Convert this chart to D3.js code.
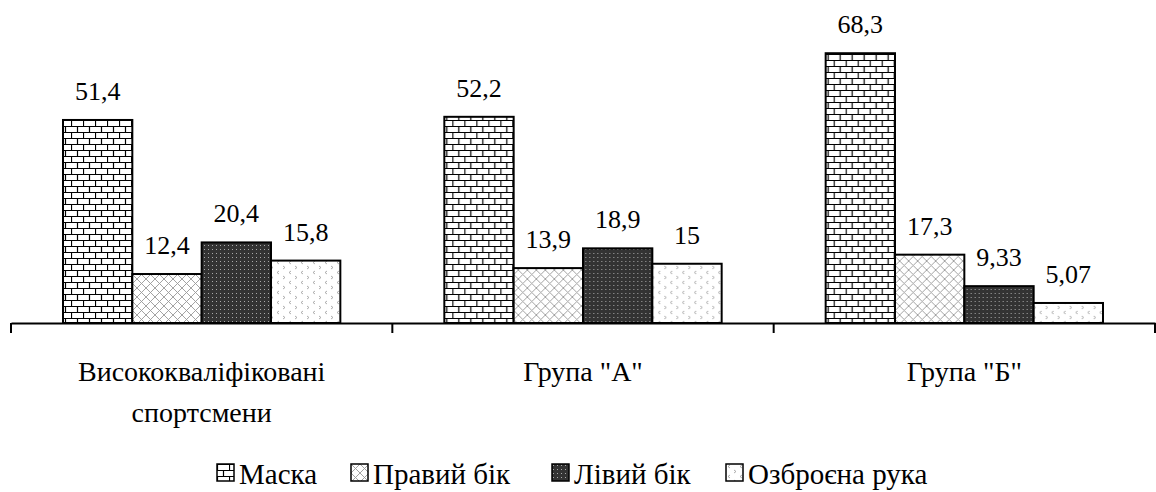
<!DOCTYPE html>
<html>
<head>
<meta charset="utf-8">
<script src="https://cdn.jsdelivr.net/npm/d3@7"></script>
<style>
  body { margin: 0; background: #fff; }
  svg text { fill: #000; }
</style>
</head>
<body>
<div id="chart"></div>
<script>
// Data
const categories = ["Висококваліфіковані\nспортсмени", 'Група "А"', 'Група "Б"'];
const series = ["Маска", "Правий бік", "Лівий бік", "Озброєна рука"];
const valueLabels = [
  ["51,4", "12,4", "20,4", "15,8"],
  ["52,2", "13,9", "18,9", "15"],
  ["68,3", "17,3", "9,33", "5,07"]
];
const values = [
  [51.4, 12.4, 20.4, 15.8],
  [52.2, 13.9, 18.9, 15],
  [68.3, 17.3, 9.33, 5.07]
];

// Dimensions
const width = 1156;
const height = 492;
const margin = {left: 11, right: 1, top: 7, bottom: 169};
const baseY = height - margin.bottom;

const svg = d3.select("#chart")
  .append("svg")
  .attr("width", width)
  .attr("height", height)
  .attr("font-family", "'Liberation Serif', 'Times New Roman', serif");

// Fill patterns (Excel-like hatches)
const defs = svg.append("defs");

const brick = defs.append("pattern").attr("id", "p0")
  .attr("patternUnits", "userSpaceOnUse").attr("width", 12).attr("height", 12);
brick.append("rect").attr("width", 12).attr("height", 12).attr("fill", "#fff");
brick.append("path")
  .attr("d", "M0,0.5H12M0,6.5H12M0.5,0V6.5M6.5,6.5V12")
  .attr("stroke", "#000").attr("stroke-width", 1.2).attr("fill", "none");

const cross = defs.append("pattern").attr("id", "p1")
  .attr("patternUnits", "userSpaceOnUse").attr("width", 9).attr("height", 9);
cross.append("rect").attr("width", 9).attr("height", 9).attr("fill", "#fff");
cross.append("path")
  .attr("d", "M0,0L9,9M9,0L0,9")
  .attr("stroke", "#999").attr("stroke-width", 0.9).attr("fill", "none");

const dots = defs.append("pattern").attr("id", "p2")
  .attr("patternUnits", "userSpaceOnUse").attr("width", 4).attr("height", 4);
dots.append("rect").attr("width", 4).attr("height", 4).attr("fill", "#333");
dots.append("rect").attr("x", 1).attr("y", 1).attr("width", 1).attr("height", 1).attr("fill", "#aaa");

const divot = defs.append("pattern").attr("id", "p3")
  .attr("patternUnits", "userSpaceOnUse").attr("width", 12).attr("height", 10);
divot.append("rect").attr("width", 12).attr("height", 10).attr("fill", "#fff");
divot.append("path")
  .attr("d", "M4,1L2,2.5L4,4M8,6L10,7.5L8,9")
  .attr("stroke", "#999").attr("stroke-width", 0.8).attr("fill", "none");

// Scales
const x0 = d3.scaleBand()
  .domain(d3.range(categories.length))
  .range([margin.left, width - margin.right])
  .padding(0);

const x1 = d3.scaleBand()
  .domain(d3.range(series.length))
  .range([0, x0.bandwidth()])
  .paddingInner(0)
  .paddingOuter(0.75);

const y = d3.scaleLinear()
  .domain([0, 80])
  .range([baseY, margin.top]);

// Bars
const groups = svg.selectAll(".group")
  .data(values)
  .enter()
  .append("g")
    .attr("class", "group")
    .attr("transform", (d, i) => `translate(${x0(i)},0)`);

groups.selectAll("rect")
  .data(d => d)
  .enter()
  .append("rect")
    .attr("x", (d, j) => x1(j))
    .attr("y", d => y(d))
    .attr("width", x1.bandwidth())
    .attr("height", d => baseY - y(d))
    .attr("fill", (d, j) => `url(#p${j})`)
    .attr("stroke", "#000")
    .attr("stroke-width", 2);

// Value labels
groups.selectAll(".val")
  .data((d, i) => d.map((v, j) => ({v: v, label: valueLabels[i][j], j: j})))
  .enter()
  .append("text")
    .attr("class", "val")
    .attr("x", d => x1(d.j) + x1.bandwidth() / 2)
    .attr("y", d => y(d.v) - 20)
    .attr("text-anchor", "middle")
    .attr("font-size", "26px")
    .text(d => d.label);

// X axis
const xAxis = svg.append("g")
  .attr("transform", `translate(0,${baseY})`)
  .call(d3.axisBottom(x0)
    .tickValues(d3.range(categories.length + 1))
    .tickFormat("")
    .tickSize(10)
    .tickSizeOuter(0));
// put ticks on band edges instead of centers
xAxis.selectAll(".tick")
  .attr("transform", i => `translate(${i < categories.length ? x0(i) : x0(i - 1) + x0.bandwidth()},0)`);
xAxis.select(".domain").attr("stroke-width", 2);
xAxis.selectAll(".tick line").attr("stroke-width", 2);

// Category labels
const cat = svg.selectAll(".cat")
  .data(categories)
  .enter()
  .append("text")
    .attr("class", "cat")
    .attr("text-anchor", "middle")
    .attr("font-size", "28px")
    .attr("transform", (d, i) => `translate(${x0(i) + x0.bandwidth() / 2},381)`);
cat.selectAll("tspan")
  .data(d => d.split("\n"))
  .enter()
  .append("tspan")
    .attr("x", 0)
    .attr("y", (d, k) => k * 41)
    .text(d => d);

// Legend
const legendX = [217, 351, 552, 726];
const legend = svg.selectAll(".legend")
  .data(series)
  .enter()
  .append("g")
    .attr("class", "legend")
    .attr("transform", (d, j) => `translate(${legendX[j]},464)`);
legend.append("rect")
  .attr("width", 17)
  .attr("height", 17)
  .attr("fill", (d, j) => `url(#p${j})`)
  .attr("stroke", "#000")
  .attr("stroke-width", 1.5);
legend.append("text")
  .attr("x", 22)
  .attr("y", 20)
  .attr("font-size", "29px")
  .text(d => d);
</script>
</body>
</html>
